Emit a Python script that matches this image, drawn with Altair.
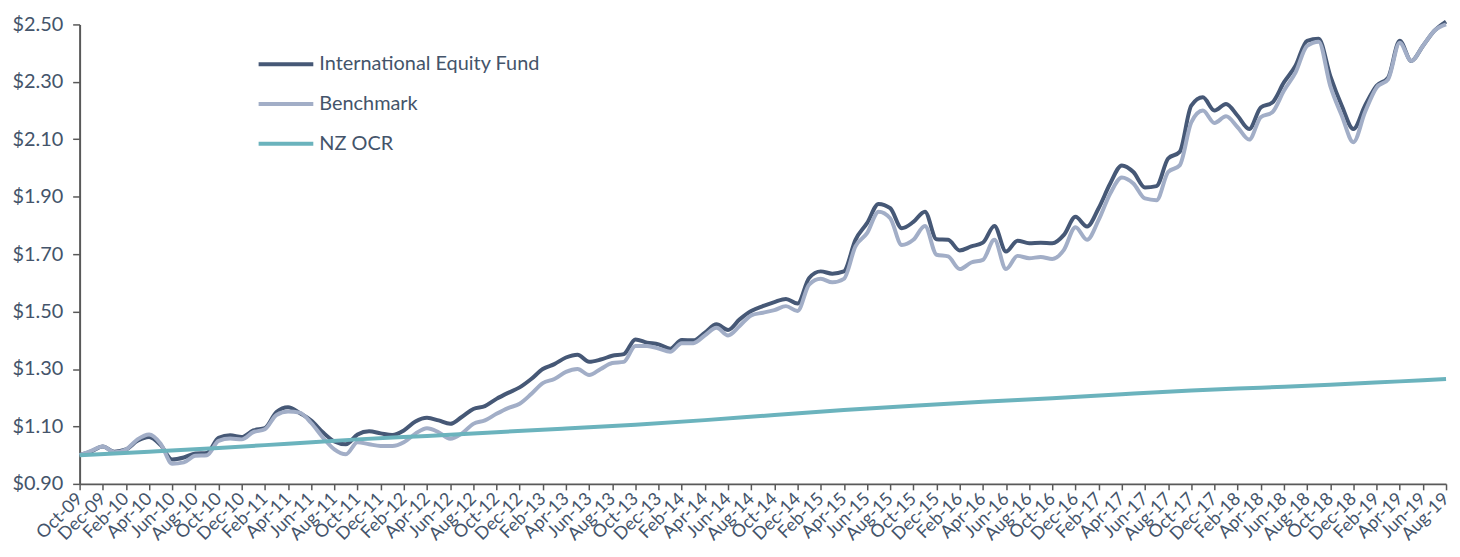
import altair as alt
import pandas as pd

# Category labels (monthly, Oct-09 .. Aug-19)
months = list(pd.date_range("2009-10-01", periods=119, freq="MS").strftime("%b-%y"))

series_names = ["International Equity Fund", "Benchmark", "NZ OCR"]
series_colors = ["#465876", "#a2aec7", "#6bb3bd"]

fund = [
    1.000, 1.013, 1.030, 1.012, 1.020, 1.050, 1.063, 1.035, 0.985, 0.992,
    1.006, 1.008, 1.060, 1.069, 1.063, 1.086, 1.094, 1.150, 1.167, 1.147,
    1.121, 1.080, 1.048, 1.038, 1.072, 1.083, 1.076, 1.070, 1.086, 1.117,
    1.130, 1.121, 1.109, 1.133, 1.161, 1.171, 1.196, 1.217, 1.236, 1.265,
    1.300, 1.317, 1.340, 1.350, 1.325, 1.333, 1.346, 1.352, 1.403, 1.392,
    1.386, 1.371, 1.401, 1.400, 1.427, 1.456, 1.436, 1.473, 1.502, 1.519,
    1.533, 1.544, 1.528, 1.617, 1.640, 1.632, 1.640, 1.750, 1.808, 1.875,
    1.860, 1.790, 1.812, 1.848, 1.752, 1.750, 1.713, 1.727, 1.740, 1.798,
    1.709, 1.747, 1.738, 1.740, 1.738, 1.767, 1.830, 1.796, 1.860, 1.946,
    2.009, 1.986, 1.932, 1.937, 2.033, 2.056, 2.217, 2.246, 2.200, 2.223,
    2.182, 2.136, 2.211, 2.228, 2.298, 2.356, 2.443, 2.450, 2.321, 2.217,
    2.136, 2.217, 2.286, 2.315, 2.443, 2.373, 2.425, 2.478, 2.510,
]

benchmark = [
    1.000, 1.015, 1.030, 1.010, 1.020, 1.055, 1.072, 1.040, 0.970, 0.975,
    0.998, 1.000, 1.050, 1.058, 1.055, 1.080, 1.090, 1.140, 1.152, 1.148,
    1.112, 1.062, 1.020, 1.003, 1.045, 1.038, 1.032, 1.032, 1.045, 1.075,
    1.094, 1.080, 1.057, 1.075, 1.109, 1.121, 1.144, 1.164, 1.179, 1.213,
    1.251, 1.265, 1.290, 1.300, 1.279, 1.300, 1.321, 1.325, 1.380, 1.380,
    1.371, 1.360, 1.390, 1.390, 1.417, 1.444, 1.417, 1.450, 1.487, 1.496,
    1.505, 1.519, 1.502, 1.594, 1.614, 1.602, 1.614, 1.727, 1.773, 1.848,
    1.825, 1.732, 1.750, 1.798, 1.698, 1.692, 1.648, 1.671, 1.680, 1.750,
    1.648, 1.694, 1.686, 1.690, 1.683, 1.715, 1.794, 1.750, 1.819, 1.911,
    1.967, 1.946, 1.894, 1.888, 1.986, 2.009, 2.159, 2.200, 2.157, 2.180,
    2.142, 2.099, 2.177, 2.194, 2.269, 2.332, 2.425, 2.440, 2.286, 2.182,
    2.090, 2.194, 2.280, 2.309, 2.436, 2.373, 2.425, 2.478, 2.500,
]

# NZ OCR read at half-yearly points (line is nearly straight)
ocr_months = ["Oct-09", "Apr-10", "Oct-10", "Apr-11", "Oct-11", "Apr-12", "Oct-12",
              "Apr-13", "Oct-13", "Apr-14", "Oct-14", "Apr-15", "Oct-15", "Apr-16",
              "Oct-16", "Apr-17", "Oct-17", "Apr-18", "Oct-18", "Apr-19", "Aug-19"]
ocr = [1.000, 1.012, 1.025, 1.040, 1.055, 1.067, 1.080, 1.093, 1.106, 1.122,
       1.140, 1.157, 1.172, 1.186, 1.198, 1.212, 1.225, 1.235, 1.245, 1.257, 1.265]

y_ticks = [0.9, 1.1, 1.3, 1.5, 1.7, 1.9, 2.1, 2.3, 2.5]

rows = []
for i, (m, v) in enumerate(zip(months, fund)):
    rows.append({"Month": m, "idx": i, "Series": series_names[0], "Value": v})
for i, (m, v) in enumerate(zip(months, benchmark)):
    rows.append({"Month": m, "idx": i, "Series": series_names[1], "Value": v})
for m, v in zip(ocr_months, ocr):
    rows.append({"Month": m, "idx": months.index(m), "Series": series_names[2], "Value": v})
df = pd.DataFrame(rows)

text_color = "#44546a"
axis_color = "#595959"
font = "Lato"

chart = (
    alt.Chart(df)
    .mark_line(interpolate="monotone", strokeWidth=4)
    .encode(
        x=alt.X(
            "Month:O",
            sort=months,
            scale=alt.Scale(type="point", domain=months, padding=0),
            axis=alt.Axis(
                title=None,
                values=months[::2],
                labelAngle=-45,
                labelAlign="right",
                labelBaseline="middle",
                labelPadding=6,
                labelFontSize=18,
                labelFont=font,
                labelColor=text_color,
                tickSize=6,
                tickColor=axis_color,
                tickWidth=1.5,
                domainColor=axis_color,
                domainWidth=2,
                grid=False,
                labelOverlap=False,
                labelBound=False,
            ),
        ),
        y=alt.Y(
            "Value:Q",
            scale=alt.Scale(domain=[0.9, 2.5], nice=False, zero=False),
            axis=alt.Axis(
                title=None,
                values=y_ticks,
                format="$.2f",
                labelFontSize=20,
                labelFont=font,
                labelColor=text_color,
                labelPadding=10,
                tickSize=7,
                tickColor=axis_color,
                tickWidth=1.5,
                domainColor=axis_color,
                domainWidth=2,
                grid=False,
            ),
        ),
        color=alt.Color(
            "Series:N",
            sort=series_names,
            scale=alt.Scale(domain=series_names, range=series_colors),
            legend=alt.Legend(
                title=None,
                orient="none",
                legendX=178,
                legendY=25,
                symbolType="stroke",
                symbolSize=3025,
                symbolStrokeWidth=4,
                clipHeight=30,
                rowPadding=10,
                labelOffset=4,
                labelFontSize=20,
                labelFont=font,
                labelColor=text_color,
                labelLimit=0,
                padding=0,
            ),
        ),
        order=alt.Order("idx:Q"),
    )
    .properties(
        width=1374,
        height=462,
        autosize=alt.AutoSizeParams(type="none"),
        padding={"left": 72, "top": 15, "right": 6, "bottom": 70},
    )
    .configure_view(stroke=None)
)

chart.save("out.html", embed_options={"renderer": "svg", "actions": False})
